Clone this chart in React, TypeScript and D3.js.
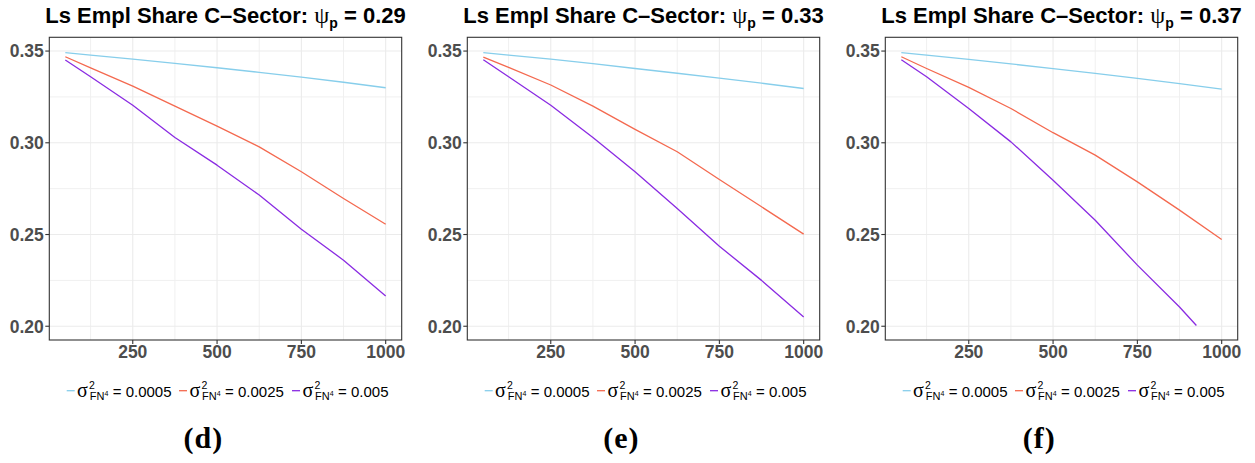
import React from "react";
import * as d3 from "d3";

// Horizon values on the x axis
const horizon = [50, 125, 250, 375, 500, 625, 750, 875, 1000];
const horizonShort = [50, 125, 250, 375, 500, 625, 750, 875, 925];

// Panel parameters and captions
const psiValues = ["0.29", "0.33", "0.37"];
const captions = ["(d)", "(e)", "(f)"];

// Legend entries (variance levels) and colours
const sigmaLabels = ["0.0005", "0.0025", "0.005"];
const seriesColors = ["#87CEEB", "#F4694F", "#8A2BE2"];

// Employment share, psi = 0.29
const shareD_low = [0.3491, 0.3478, 0.3456, 0.3433, 0.3409, 0.3384, 0.3358, 0.3330, 0.3300];
const shareD_mid = [0.3469, 0.3408, 0.3309, 0.3200, 0.3091, 0.2978, 0.2842, 0.2696, 0.2556];
const shareD_high = [0.3451, 0.3360, 0.3205, 0.3029, 0.2878, 0.2715, 0.2529, 0.2360, 0.2165];

// Employment share, psi = 0.33
const shareE_low = [0.3491, 0.3478, 0.3456, 0.3431, 0.3405, 0.3379, 0.3353, 0.3325, 0.3296];
const shareE_mid = [0.3467, 0.3411, 0.3315, 0.3200, 0.3073, 0.2951, 0.2800, 0.2651, 0.2502];
const shareE_high = [0.3453, 0.3360, 0.3205, 0.3029, 0.2842, 0.2642, 0.2436, 0.2250, 0.2051];

// Employment share, psi = 0.37
const shareF_low = [0.3491, 0.3478, 0.3455, 0.3430, 0.3404, 0.3378, 0.3351, 0.3322, 0.3293];
const shareF_mid = [0.3469, 0.3405, 0.3302, 0.3187, 0.3055, 0.2933, 0.2787, 0.2633, 0.2473];
const shareF_high = [0.3453, 0.3360, 0.3187, 0.3005, 0.2796, 0.2578, 0.2333, 0.2105, 0.2004];

// Axis ticks
const xMajor = [250, 500, 750, 1000];
const xMinor = [125, 375, 625, 875];
const yMajor = [0.2, 0.25, 0.3, 0.35];
const yMinor = [0.225, 0.275, 0.325];

const panels = [
  { series: [[horizon, shareD_low], [horizon, shareD_mid], [horizon, shareD_high]] },
  { series: [[horizon, shareE_low], [horizon, shareE_mid], [horizon, shareE_high]] },
  { series: [[horizon, shareF_low], [horizon, shareF_mid], [horizonShort, shareF_high]] },
];

const W = 1255;
const H = 463;
const panelLefts = [49.3, 467.3, 885.3];
const panelWidth = 352.4;
const top = 37.3;
const bottom = 340;

const sans = "'Liberation Sans', Arial, Helvetica, sans-serif";
const serif = "'Liberation Serif', 'DejaVu Serif', serif";

function LegendItem({ x, y, color, label }: { x: number; y: number; color: string; label: string }) {
  return (
    <g>
      <line x1={x} x2={x + 8} y1={y} y2={y} stroke={color} strokeWidth={1.3} />
      <text x={x + 10.4} y={y + 6.3} fontFamily={serif} fontSize={20} fill="#000">σ</text>
      <text x={x + 22.4} y={y - 1.6} fontFamily={sans} fontSize={10.5} fill="#000">2</text>
      <text x={x + 23} y={y + 9.3} fontFamily={sans} fontSize={11} fill="#000">FN</text>
      <text x={x + 37.8} y={y + 5.4} fontFamily={sans} fontSize={7} fill="#000">4</text>
      <text x={x + 46} y={y + 6.3} fontFamily={sans} fontSize={15} fill="#000">= {label}</text>
    </g>
  );
}

function Panel({ idx }: { idx: number }) {
  const left = panelLefts[idx];
  const right = left + panelWidth;
  const x = d3.scaleLinear().domain([2.5, 1047.5]).range([left, right]);
  const y = d3.scaleLinear().domain([0.1925, 0.3575]).range([bottom, top]);
  const line = d3
    .line<[number, number]>()
    .x((d) => x(d[0]))
    .y((d) => y(d[1]));
  const center = (left + right) / 2;
  const legendLeft = left + 17.4;
  const itemOffsets = [0, 112.3, 225.3];

  return (
    <g>
      {/* grid */}
      {yMinor.map((v) => (
        <line key={"ym" + v} x1={left} x2={right} y1={y(v)} y2={y(v)} stroke="#f0f0f0" strokeWidth={1} />
      ))}
      {xMinor.map((v) => (
        <line key={"xm" + v} x1={x(v)} x2={x(v)} y1={top} y2={bottom} stroke="#f0f0f0" strokeWidth={1} />
      ))}
      {yMajor.map((v) => (
        <line key={"yM" + v} x1={left} x2={right} y1={y(v)} y2={y(v)} stroke="#ebebeb" strokeWidth={1.1} />
      ))}
      {xMajor.map((v) => (
        <line key={"xM" + v} x1={x(v)} x2={x(v)} y1={top} y2={bottom} stroke="#ebebeb" strokeWidth={1.1} />
      ))}

      {/* series */}
      {panels[idx].series.map(([xs, ys], i) => (
        <path
          key={i}
          d={line(xs.map((xv, j) => [xv, ys[j]] as [number, number])) || ""}
          fill="none"
          stroke={seriesColors[i]}
          strokeWidth={1.3}
          strokeLinejoin="round"
        />
      ))}

      {/* border */}
      <rect x={left} y={top} width={panelWidth} height={bottom - top} fill="none" stroke="#333333" strokeWidth={1.1} />

      {/* y axis */}
      {yMajor.map((v) => (
        <g key={"yt" + v}>
          <line x1={left - 4} x2={left} y1={y(v)} y2={y(v)} stroke="#333333" strokeWidth={1.1} />
          <text x={left - 5.5} y={y(v)} dy="0.36em" textAnchor="end" fontFamily={sans} fontWeight="bold" fontSize={17.5} fill="#4d4d4d">
            {d3.format(".2f")(v)}
          </text>
        </g>
      ))}

      {/* x axis */}
      {xMajor.map((v) => (
        <g key={"xt" + v}>
          <line x1={x(v)} x2={x(v)} y1={bottom} y2={bottom + 4} stroke="#333333" strokeWidth={1.1} />
          <text x={x(v)} y={bottom + 18} textAnchor="middle" fontFamily={sans} fontWeight="bold" fontSize={17.5} fill="#4d4d4d">
            {v}
          </text>
        </g>
      ))}

      {/* title */}
      <text x={center} y={23.3} textAnchor="middle" fontFamily={sans} fontWeight="bold" fontSize={22} fill="#000">
        Ls Empl Share C–Sector:{" "}
        <tspan fontFamily={serif} fontWeight="normal" fontSize={24}>ψ</tspan>
        <tspan fontSize={14} dy={5}>p</tspan>
        <tspan dy={-5}> = {psiValues[idx]}</tspan>
      </text>

      {/* legend */}
      {sigmaLabels.map((lab, i) => (
        <LegendItem key={lab} x={legendLeft + itemOffsets[i]} y={390.7} color={seriesColors[i]} label={lab} />
      ))}

      {/* caption */}
      <text x={left + 154} y={447.5} textAnchor="middle" fontFamily={serif} fontWeight="bold" fontSize={30} letterSpacing={1} fill="#000">
        {captions[idx]}
      </text>
    </g>
  );
}

export default function App() {
  return (
    <svg
      width={W}
      height={H}
      viewBox={`0 0 ${W} ${H}`}
      style={{ position: "absolute", left: 0, top: 0, display: "block", background: "#fff" }}
    >
      <rect x={0} y={0} width={W} height={H} fill="#fff" />
      {[0, 1, 2].map((i) => (
        <Panel key={i} idx={i} />
      ))}
    </svg>
  );
}
